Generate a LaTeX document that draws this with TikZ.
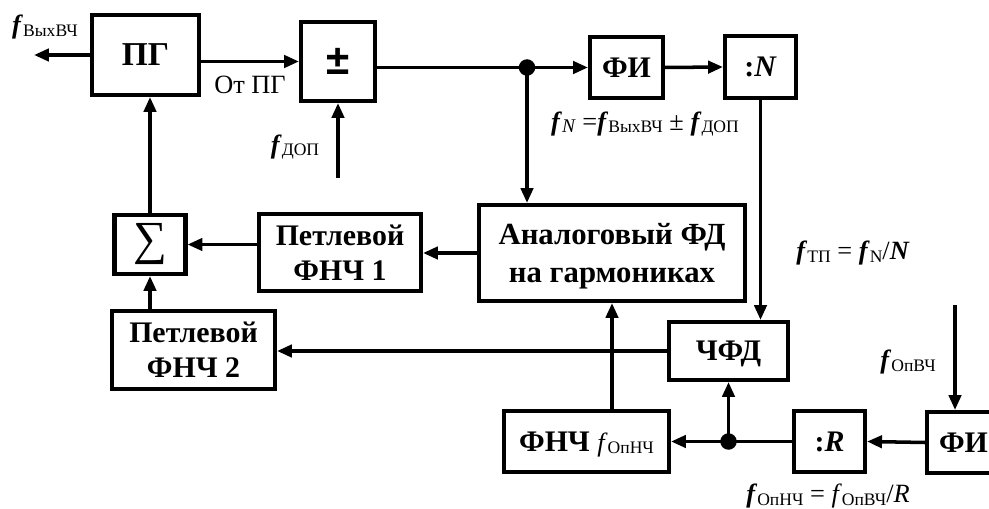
\documentclass[tikz,border=0pt]{standalone}
\usepackage{fontspec}
\setmainfont{Liberation Serif}
\newfontfamily\pmfont{Liberation Sans}
\usetikzlibrary{arrows.meta}

% frequency with a small upright index
\newcommand{\fsub}[1]{\raisebox{-1.5pt}{\fontsize{10}{12}\selectfont #1}}
\newcommand{\ff}[1]{\textbf{\textit{f}}\fsub{#1}}

\tikzset{
  blk/.style={draw, line width=2.3pt, fill=white, align=center, inner sep=0pt,
    text depth=0pt, font=\fontsize{17}{20}\selectfont\bfseries},
  sz/.style 2 args={minimum width=#1*0.02cm, minimum height=#2*0.02cm},
  lbl/.style={inner sep=0pt, font=\fontsize{15}{17}\selectfont},
  ln/.style={line width=2pt},
  sig/.style={line width=2pt, -{Triangle[length=8.5pt,width=7pt]}},
  dot/.style={circle, fill=black, inner sep=0pt, minimum size=0.33cm}
}

\begin{document}
\begin{tikzpicture}[x=0.02cm, y=-0.02cm]
\useasboundingbox (0,0) rectangle (989,509);
\clip (0,0) rectangle (989,509);

% Blocks
\node[blk, sz={107}{80}, font=\fontsize{19}{21}\selectfont\bfseries] (pg) at (145.5,55) {ПГ};
\node[blk, sz={74}{79}, font=\fontsize{24}{26}\selectfont\pmfont\bfseries] (pm) at (338,61.5) {±};
\node[blk, sz={73}{61}] (fi1) at (626.5,67.5) {ФИ};
\node[blk, sz={71}{62}] (divn) at (760.5,67) {:\textit{N}};
\node[blk, sz={266}{96}, font=\fontsize{17.5}{21.5}\selectfont\bfseries] (afd) at (612,253) {Аналоговый ФД\\на гармониках};
\node[blk, sz={162}{77}] (lpf1) at (340,252.5) {Петлевой\\ФНЧ 1};
\node[blk, sz={71}{59}, text depth={}, font=\fontsize{27}{29}\selectfont] (sum) at (150,244.5) {∑};
\node[blk, sz={163}{78}] (lpf2) at (193.5,350) {Петлевой\\ФНЧ 2};
\node[blk, sz={119}{58}] (chfd) at (728.5,351) {ЧФД};
\node[blk, sz={165}{61}] (lpf) at (586.5,441.5) {ФНЧ {\mdseries\fontsize{15}{17}\selectfont\textit{f}\fsub{ОпНЧ}}};
\node[blk, sz={71}{61}] (divr) at (829.5,441.5) {:\textit{R}};
\node[blk, sz={73}{61}] (fi2) at (963.5,442.5) {ФИ};

% Free ends and branch points
\coordinate (outend) at (34,55);
\coordinate (fdopin) at (338,178);
\coordinate (fopin) at (955,305);
\coordinate (j1) at (527,67.5);
\coordinate (j2) at (chfd.south |- divr.west);

% Connections
\draw[sig] (pg.west) -- (pg.west -| outend);
\draw[sig] (pg.east |- pm.west) -- (pm.west);
\draw[sig] (fdopin) -- (pm.south);
\draw[ln] (pm.east |- fi1.west) -- (j1);
\draw[sig] (j1) -- (fi1.west);
\draw[sig] (j1) -- (j1 |- afd.north);
\draw[sig] (fi1.east) -- (divn.west);
\draw[sig] (divn.south) -- (divn.south |- chfd.north);
\draw[sig] (afd.west) -- (afd.west -| lpf1.east);
\draw[sig] (sum.east -| lpf1.west) -- (sum.east);
\draw[sig] (sum.north) -- (sum.north |- pg.south);
\draw[sig] (sum.south |- lpf2.north) -- (sum.south);
\draw[sig] (chfd.west) -- (chfd.west -| lpf2.east);
\draw[sig] (afd.south |- lpf.north) -- (afd.south);
\draw[ln] (divr.west) -- (j2);
\draw[sig] (j2) -- (lpf.east);
\draw[sig] (j2) -- (chfd.south);
\draw[sig] (fi2.west) -- (divr.east);
\draw[sig] (fopin) -- (fopin |- fi2.north);
\node[dot] (dj1) at (j1) {};
\node[dot] (dj2) at (j2) {};

% Labels
\node[lbl] (lfout) at (45,27) {\ff{ВыхВЧ}};
\node[lbl] (lotpg) at (250,85) {От ПГ};
\node[lbl] (lfdop) at (295,147) {\ff{ДОП}};
\node[lbl] (lfn) at (645,124) {\textbf{\textit{f}}\fsub{\fontsize{11}{12}\selectfont\textit{N}} =\ff{ВыхВЧ} ± \ff{ДОП}};
\node[lbl] (lftp) at (853,253) {\ff{ТП} = \ff{N}/\textbf{\textit{N}}};
\node[lbl] (lfop) at (908,362) {\ff{ОпВЧ}};
\node[lbl] (lfonch) at (828,496) {\ff{ОпНЧ} = \textit{f}\fsub{ОпВЧ}/\textit{R}};
\end{tikzpicture}
\end{document}
